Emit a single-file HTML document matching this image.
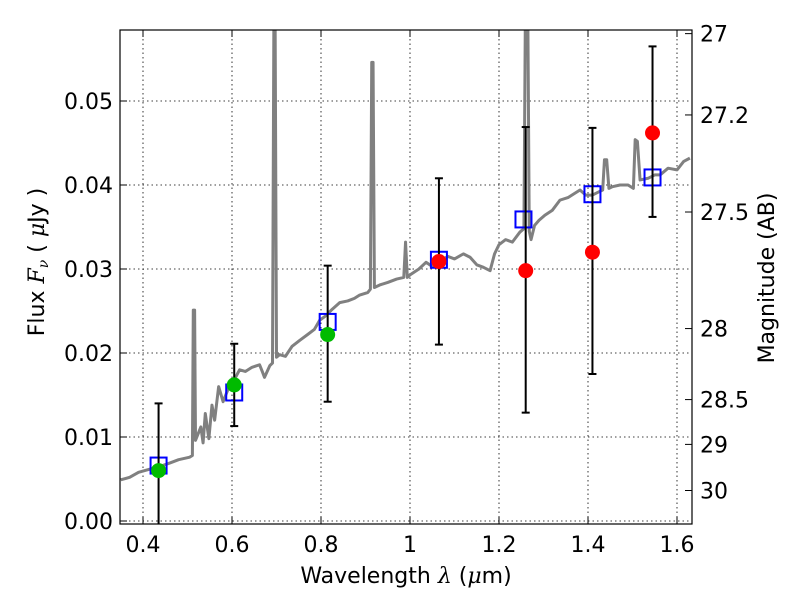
<!DOCTYPE html>
<html><head><meta charset="utf-8"><style>
body{margin:0;background:#fff;}
svg text{font-family:"DejaVu Sans","Liberation Sans",sans-serif;}
</style></head><body>
<svg id="c" width="800" height="600" xmlns="http://www.w3.org/2000/svg"></svg>
<script>
const specW=[0.35,0.37,0.39,0.41,0.438,0.46,0.48,0.505,0.511,0.513,0.516,0.518,0.53,0.535,0.54,0.548,0.555,0.561,0.57,0.58,0.595,0.605,0.617,0.63,0.645,0.662,0.668,0.673,0.685,0.691,0.694,0.697,0.7,0.707,0.72,0.735,0.752,0.77,0.785,0.797,0.81,0.825,0.842,0.86,0.875,0.887,0.905,0.911,0.914,0.917,0.92,0.932,0.95,0.97,0.986,0.99,0.994,1.0,1.02,1.036,1.05,1.07,1.085,1.1,1.12,1.135,1.15,1.165,1.18,1.19,1.2,1.215,1.23,1.247,1.256,1.259,1.265,1.268,1.272,1.28,1.29,1.303,1.32,1.337,1.355,1.37,1.382,1.395,1.41,1.425,1.433,1.437,1.442,1.447,1.455,1.472,1.49,1.502,1.506,1.511,1.517,1.535,1.55,1.562,1.58,1.6,1.615,1.629];
const specF=[0.0049,0.0052,0.0058,0.0061,0.0065,0.0069,0.0073,0.0076,0.0078,0.0251,0.0251,0.0096,0.0112,0.0093,0.0128,0.0098,0.0138,0.012,0.016,0.0142,0.0162,0.0168,0.018,0.0178,0.0183,0.0186,0.0178,0.0171,0.0185,0.0188,0.0585,0.0585,0.0195,0.0198,0.0196,0.0208,0.0215,0.0222,0.0228,0.0239,0.0244,0.0252,0.026,0.0262,0.0265,0.0269,0.0272,0.0276,0.0546,0.0546,0.0278,0.0281,0.0284,0.0288,0.029,0.0332,0.029,0.0293,0.03,0.0308,0.0303,0.031,0.0315,0.0312,0.0318,0.0314,0.0305,0.0302,0.0298,0.0318,0.0329,0.0335,0.0332,0.0344,0.0348,0.0585,0.0585,0.0345,0.0335,0.0352,0.0358,0.0364,0.037,0.0382,0.0385,0.039,0.0394,0.0388,0.0388,0.0392,0.0394,0.043,0.043,0.0396,0.0398,0.04,0.04,0.0396,0.0454,0.0452,0.0406,0.0408,0.0412,0.0412,0.042,0.0418,0.0428,0.0432];
const obsW=[0.435,0.605,0.815,1.065,1.26,1.41,1.545];
const obsF=[0.006,0.0162,0.0222,0.0309,0.0298,0.0320,0.0462];
const errLo=[-0.001,0.0113,0.0142,0.021,0.0129,0.0175,0.0362];
const errHi=[0.014,0.0211,0.0304,0.0408,0.0469,0.0468,0.0565];
const obsColor=['#00bb00','#00bb00','#00bb00','red','red','red','red'];
const modW=[0.435,0.605,0.815,1.065,1.255,1.41,1.545];
const modF=[0.0066,0.0153,0.0237,0.0311,0.0359,0.0389,0.0409];
const xTicks=[0.4,0.6,0.8,1.0,1.2,1.4,1.6];
const xTickLabels=['0.4','0.6','0.8','1','1.2','1.4','1.6'];
const yTicks=[0,0.01,0.02,0.03,0.04,0.05];
const yTickLabels=['0.00','0.01','0.02','0.03','0.04','0.05'];
const magTicks=[27,27.2,27.5,28,28.5,29,30];
const magTickLabels=['27','27.2','27.5','28','28.5','29','30'];

const L=120,R=692,T=30,B=524;
const x=w=>143+(w-0.4)*445;
const y=f=>521-f*8400;
const ym=m=>y(Math.pow(10,(23.9-m)/2.5));
const svg=document.getElementById('c');
const NS='http://www.w3.org/2000/svg';
function mk(t,a,p){const e=document.createElementNS(NS,t);for(const k in a)e.setAttribute(k,a[k]);(p||svg).appendChild(e);return e;}
const defs=mk('defs',{});const cp=mk('clipPath',{id:'cp'},defs);mk('rect',{x:L,y:T,width:R-L,height:B-T},cp);
xTicks.forEach(v=>{const g=mk('line',{x1:x(v),x2:x(v),y1:T,y2:B,stroke:'#000','stroke-width':0.8,'stroke-dasharray':'1.5,3'});

});
yTicks.forEach(v=>{const g=mk('line',{x1:L,x2:R,y1:y(v),y2:y(v),stroke:'#000','stroke-width':0.8,'stroke-dasharray':'1.5,3'});

});
const pl=mk('polyline',{points:specW.map((w,i)=>x(w)+','+y(specF[i])).join(' '),fill:'none',stroke:'#808080','stroke-width':3,'stroke-linejoin':'round','clip-path':'url(#cp)'});


modW.forEach((w,i)=>{const r=mk('rect',{x:x(w)-8,y:y(modF[i])-8,width:16,height:16,fill:'none',stroke:'#0000ff','stroke-width':2,'clip-path':'url(#cp)'});

});
obsW.forEach((w,i)=>{const g=mk('g',{'clip-path':'url(#cp)'});


mk('line',{x1:x(w),x2:x(w),y1:y(errLo[i]),y2:y(errHi[i]),stroke:'#000','stroke-width':2},g);
mk('line',{x1:x(w)-4,x2:x(w)+4,y1:y(errLo[i]),y2:y(errLo[i]),stroke:'#000','stroke-width':2},g);
mk('line',{x1:x(w)-4,x2:x(w)+4,y1:y(errHi[i]),y2:y(errHi[i]),stroke:'#000','stroke-width':2},g);});
obsW.forEach((w,i)=>{const c=mk('circle',{cx:x(w),cy:y(obsF[i]),r:7.5,fill:obsColor[i]});

});
const fr=mk('rect',{x:L,y:T,width:R-L,height:B-T,fill:'none',stroke:'#000','stroke-width':1.2});


xTicks.forEach((v,i)=>{mk('line',{x1:x(v),x2:x(v),y1:B,y2:B-7,stroke:'#000'});mk('line',{x1:x(v),x2:x(v),y1:T,y2:T+7,stroke:'#000'});
const t=mk('text',{x:x(v),y:B+28,'font-size':22,'text-anchor':'middle'});t.textContent=xTickLabels[i];

});
yTicks.forEach((v,i)=>{mk('line',{x1:L,x2:L+7,y1:y(v),y2:y(v),stroke:'#000'});
const t=mk('text',{x:L-7,y:y(v)+8,'font-size':22,'text-anchor':'end'});t.textContent=yTickLabels[i];

});
magTicks.forEach((m,i)=>{const yy=ym(m)-(m<28?4:0);mk('line',{x1:R,x2:R-7,y1:yy,y2:yy,stroke:'#000'});
const t=mk('text',{x:R+8,y:yy+8,'font-size':22});t.textContent=magTickLabels[i];

});
</script>
<svg width="800" height="600" style="position:absolute;left:0;top:0" xmlns="http://www.w3.org/2000/svg">
<text x="406" y="583" font-size="22" text-anchor="middle" font-family="DejaVu Sans, sans-serif">Wavelength  <tspan font-style="italic" font-family="DejaVu Serif, serif">λ</tspan> (<tspan font-style="italic" font-family="DejaVu Serif, serif">μ</tspan>m)</text>
<text transform="translate(44,262) rotate(-90)" font-size="22" text-anchor="middle" font-family="DejaVu Sans, sans-serif">Flux  <tspan font-style="italic" font-family="DejaVu Serif, serif">F</tspan><tspan font-style="italic" font-size="14" dy="4" font-family="DejaVu Serif, serif">ν</tspan><tspan dy="-4">  (  </tspan><tspan font-style="italic" font-family="DejaVu Serif, serif">μ</tspan>Jy )</text>
<text transform="translate(774,278) rotate(-90)" font-size="22" text-anchor="middle" font-family="DejaVu Sans, sans-serif">Magnitude (AB)</text>
</svg>
</body></html>
